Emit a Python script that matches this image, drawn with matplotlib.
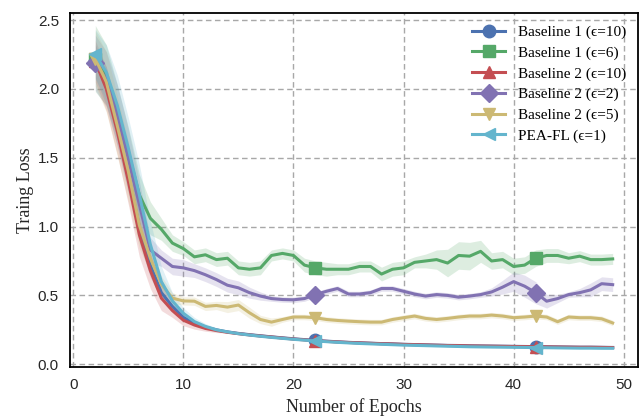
import matplotlib.pyplot as plt
import numpy as np

epochs = list(range(2, 50))

labels = ["Baseline 1 (ϵ=10)", "Baseline 1 (ϵ=6)", "Baseline 2 (ϵ=10)",
          "Baseline 2 (ϵ=2)", "Baseline 2 (ϵ=5)", "PEA-FL (ϵ=1)"]
colors = ["#4C72B0", "#55A868", "#C44E52", "#8172B2", "#CCB974", "#64B5CD"]
markers = ["o", "s", "^", "D", "v", "<"]

b1_e10 = [2.20, 2.02, 1.72, 1.38, 1.00, 0.72, 0.52, 0.42, 0.34, 0.30, 0.27, 0.25,
          0.235, 0.224, 0.215, 0.207, 0.199, 0.192, 0.185, 0.179, 0.173, 0.168, 0.163, 0.159,
          0.156, 0.153, 0.150, 0.148, 0.145, 0.143, 0.141, 0.139, 0.137, 0.136, 0.134, 0.133,
          0.132, 0.131, 0.130, 0.129, 0.128, 0.127, 0.126, 0.125, 0.124, 0.124, 0.123, 0.122]
b1_e6 = [2.22, 2.10, 1.83, 1.54, 1.23, 1.06, 0.98, 0.88, 0.84, 0.78, 0.795, 0.76,
         0.77, 0.70, 0.69, 0.70, 0.79, 0.805, 0.79, 0.72, 0.70, 0.69, 0.69, 0.69,
         0.71, 0.71, 0.655, 0.69, 0.70, 0.74, 0.75, 0.76, 0.735, 0.79, 0.785, 0.82,
         0.75, 0.76, 0.71, 0.72, 0.77, 0.79, 0.79, 0.77, 0.785, 0.76, 0.76, 0.765]
b2_e10 = [2.20, 2.00, 1.69, 1.33, 0.94, 0.68, 0.48, 0.39, 0.32, 0.285, 0.26, 0.245,
          0.232, 0.222, 0.213, 0.205, 0.198, 0.190, 0.183, 0.177, 0.171, 0.166, 0.162, 0.158,
          0.155, 0.152, 0.149, 0.147, 0.144, 0.142, 0.140, 0.138, 0.136, 0.135, 0.133, 0.132,
          0.131, 0.130, 0.129, 0.128, 0.127, 0.126, 0.125, 0.124, 0.123, 0.123, 0.122, 0.121]
b2_e2 = [2.19, 2.07, 1.81, 1.49, 1.16, 0.83, 0.77, 0.71, 0.70, 0.68, 0.65, 0.615,
         0.574, 0.555, 0.52, 0.495, 0.477, 0.47, 0.468, 0.477, 0.506, 0.53, 0.55, 0.51,
         0.51, 0.52, 0.55, 0.55, 0.53, 0.51, 0.495, 0.506, 0.50, 0.487, 0.495, 0.506,
         0.525, 0.56, 0.60, 0.567, 0.52, 0.458, 0.477, 0.506, 0.52, 0.54, 0.585, 0.578]
b2_e5 = [2.22, 2.05, 1.73, 1.40, 1.01, 0.77, 0.58, 0.48, 0.46, 0.458, 0.42, 0.427,
         0.415, 0.43, 0.374, 0.325, 0.306, 0.325, 0.343, 0.343, 0.338, 0.325, 0.318, 0.313,
         0.309, 0.306, 0.306, 0.325, 0.338, 0.35, 0.333, 0.325, 0.333, 0.343, 0.35, 0.35,
         0.357, 0.35, 0.338, 0.343, 0.35, 0.343, 0.309, 0.343, 0.338, 0.338, 0.33, 0.30]
pea_e1 = [2.25, 2.12, 1.88, 1.57, 1.23, 0.87, 0.60, 0.46, 0.37, 0.31, 0.275, 0.25,
          0.235, 0.222, 0.212, 0.203, 0.195, 0.188, 0.181, 0.175, 0.169, 0.164, 0.159, 0.155,
          0.151, 0.148, 0.145, 0.142, 0.139, 0.137, 0.135, 0.133, 0.131, 0.129, 0.127, 0.126,
          0.125, 0.124, 0.123, 0.122, 0.121, 0.120, 0.119, 0.118, 0.117, 0.117, 0.116, 0.116]

# half width of the shaded band around each line
sd_b1_e10 = [0.12, 0.14, 0.14, 0.14, 0.12, 0.09, 0.05, 0.03, 0.02, 0.015, 0.012, 0.01] + [0.006] * 36
sd_b1_e6 = [0.24, 0.22, 0.20, 0.18, 0.15, 0.12, 0.08, 0.06, 0.05, 0.05, 0.05, 0.05,
            0.05, 0.05, 0.05, 0.05, 0.04, 0.04, 0.04, 0.05, 0.05, 0.05, 0.04, 0.04,
            0.04, 0.04, 0.05, 0.05, 0.05, 0.04, 0.05, 0.07, 0.10, 0.10, 0.10, 0.08,
            0.06, 0.06, 0.06, 0.06, 0.06, 0.05, 0.05, 0.04, 0.04, 0.04, 0.04, 0.04]
sd_b2_e10 = [0.15, 0.16, 0.17, 0.17, 0.16, 0.13, 0.09, 0.05, 0.04, 0.03, 0.02, 0.015] + [0.006] * 36
sd_b2_e2 = [0.20, 0.20, 0.22, 0.22, 0.17, 0.09, 0.06, 0.06, 0.06, 0.05, 0.05, 0.05,
            0.05, 0.05, 0.04, 0.03, 0.02, 0.02, 0.02, 0.02, 0.02, 0.02, 0.02, 0.02,
            0.02, 0.02, 0.02, 0.02, 0.02, 0.02, 0.02, 0.02, 0.02, 0.02, 0.02, 0.02,
            0.03, 0.05, 0.07, 0.08, 0.08, 0.05, 0.03, 0.02, 0.03, 0.05, 0.05, 0.05]
sd_b2_e5 = [0.20, 0.22, 0.22, 0.22, 0.17, 0.10, 0.06, 0.04, 0.03, 0.03, 0.03, 0.03,
            0.04, 0.04, 0.04, 0.03, 0.03, 0.02, 0.02, 0.02, 0.02, 0.02, 0.02, 0.02,
            0.02, 0.02, 0.02, 0.02, 0.02, 0.02, 0.02, 0.02, 0.02, 0.02, 0.02, 0.02,
            0.02, 0.02, 0.02, 0.02, 0.02, 0.02, 0.02, 0.02, 0.02, 0.02, 0.02, 0.02]
sd_pea_e1 = [0.18, 0.20, 0.22, 0.22, 0.22, 0.17, 0.11, 0.06, 0.04, 0.03, 0.02, 0.015] + [0.005] * 36

series = [b1_e10, b1_e6, b2_e10, b2_e2, b2_e5, pea_e1]
spreads = [sd_b1_e10, sd_b1_e6, sd_b2_e10, sd_b2_e2, sd_b2_e5, sd_pea_e1]

plt.rcParams['font.family'] = ['Liberation Serif', 'DejaVu Serif']

fig = plt.figure(figsize=(6.44, 4.17), dpi=100)
ax = fig.add_axes([70 / 644, 1 - 367 / 417, 568 / 644, 354 / 417])

x = np.array(epochs)
for vals, sd, c in zip(series, spreads, colors):
    v = np.array(vals)
    s = np.array(sd)
    ax.fill_between(x, v - s, v + s, color=c, alpha=0.2, linewidth=0)

for vals, c, m, lab in zip(series, colors, markers, labels):
    ax.plot(x, vals, color=c, lw=2.2, marker=m, markersize=9,
            markevery=20, label=lab)

ax.set_xlim(-0.3, 51.3)
ax.set_ylim(-0.02, 2.551)
ax.set_xticks([0, 10, 20, 30, 40, 50])
ax.set_yticks([0.0, 0.5, 1.0, 1.5, 2.0, 2.5])
ax.grid(True, color="#a8a8a8", linestyle=(0, (4, 2.5)), linewidth=1)
ax.set_axisbelow(True)

for sp in ax.spines.values():
    sp.set_color("black")
    sp.set_linewidth(1.3)

ax.tick_params(length=0, pad=8, labelsize=11, labelcolor="#262626")
for t in ax.get_xticklabels() + ax.get_yticklabels():
    t.set_family("Liberation Sans")

ax.set_xlabel("Number of Epochs", fontsize=13, color="#262626", labelpad=4)
ax.set_ylabel("Traing Loss", fontsize=13, color="#262626", labelpad=3)

ax.legend(loc="upper right", frameon=False, fontsize=11, labelspacing=0.45,
          handlelength=2.2, handletextpad=0.8, borderaxespad=0.4)

fig.savefig("out.png", dpi=100)
